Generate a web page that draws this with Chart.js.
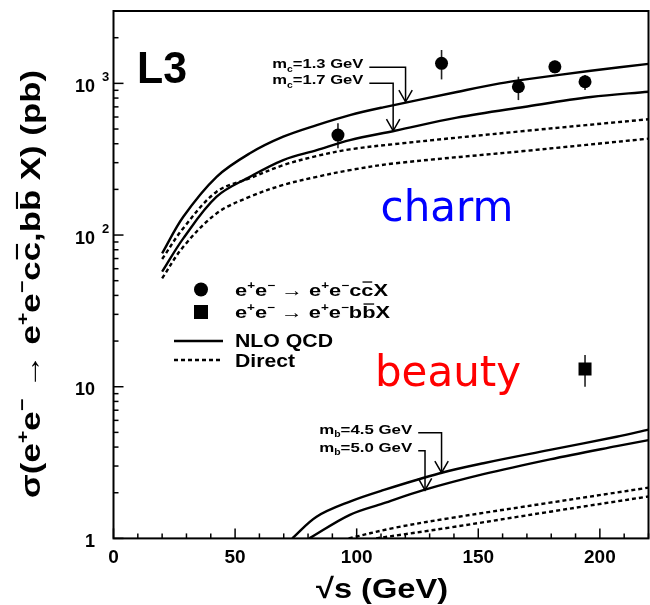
<!DOCTYPE html>
<html><head><meta charset="utf-8">
<script src="https://cdn.jsdelivr.net/npm/chart.js@4.4.0/dist/chart.umd.min.js"></script>
<style>html,body{margin:0;padding:0;background:#fff;}#wrap{width:650px;height:605px;}</style>
</head><body><div id="wrap"><canvas id="c" width="650" height="605"></canvas></div>
<script>
// ---- data (sqrt(s) in GeV, cross-section in pb) ----
const charmSqrtS   = [92.3, 134.9, 166.5, 181.5, 193.9];
const charmXsec    = [456, 1355, 950, 1286, 1025];
const charmErrLow  = [373, 1062, 776, 1164, 903];
const charmErrHigh = [545, 1660, 1106, 1409, 1135];

const beautySqrtS   = [193.9];
const beautyXsec    = [13.1];
const beautyErrLow  = [10.0];
const beautyErrHigh = [16.2];

const nloCharm13X = [20, 28.7, 42.4, 56.1, 69.8, 83.6, 97.2, 110.9, 141.2, 158.9, 168.8, 196.3, 220];
const nloCharm13Y = [75.7, 132, 242, 346, 445, 531, 618, 695, 877, 1000, 1059, 1211, 1345];
const nloCharm17X = [20, 28.7, 42.4, 56.1, 69.8, 83.6, 97.2, 115.7, 141.2, 168.8, 196.3, 220];
const nloCharm17Y = [57.3, 95.1, 179, 242, 312, 363, 423, 487, 594, 699, 813, 881];
const dirCharm13X = [20, 28.7, 42.4, 56.1, 69.8, 83.6, 97.2, 115.7, 168.8, 220];
const dirCharm13Y = [69.5, 111, 193, 237, 289, 332, 367, 398, 485, 580];
const dirCharm17X = [20, 28.7, 42.4, 56.1, 69.8, 83.6, 97.2, 115.7, 168.8, 220];
const dirCharm17Y = [51.8, 83.7, 139, 179, 214, 242, 268, 297, 358, 432];

const nloBeauty45X = [73.5, 83.5, 97.2, 110.9, 134.2, 152.1, 179.5, 206.9, 220];
const nloBeauty45Y = [1.0, 1.39, 1.75, 2.08, 2.69, 3.13, 3.83, 4.68, 5.22];
const nloBeauty50X = [80.5, 97.2, 110.9, 127.4, 152.1, 179.5, 206.9, 220];
const nloBeauty50Y = [1.0, 1.43, 1.70, 2.08, 2.65, 3.32, 4.06, 4.45];
const dirBeauty45X = [96.7, 115, 138.4, 179.5, 220];
const dirBeauty45Y = [1.0, 1.17, 1.36, 1.72, 2.16];
const dirBeauty50X = [108, 138.4, 179.5, 220];
const dirBeauty50Y = [1.0, 1.18, 1.50, 1.89];

const xTickValues = [0, 50, 100, 150, 200];
const xTickLabels = ['0', '50', '100', '150', '200'];
const yTickValues = [1, 10, 100, 1000];
const yTickBases  = ['1', '10', '10', '10'];
const yTickExps   = ['', '', '2', '3'];

// arrow annotations: [mass subscript, rest, line level (pb), line start x, corner x, arrow tip (pb)]
const massNotes = [
  ['c', '=1.3 GeV', 1275, 105.2, 120.1, 756],
  ['c', '=1.7 GeV', 1000, 105.2, 115.0, 487],
  ['b', '=4.5 GeV', 4.97, 125.3, 134.9, 2.71],
  ['b', '=5.0 GeV', 3.79, 125.3, 128.1, 2.08]
];

// ---- helpers ----
const FAM = '"Liberation Sans", Arial, Helvetica, sans-serif';
const pts = (xs, ys) => xs.map((x, i) => ({x, y: ys[i]}));
function segFont(s, F) { const sz = (s.sup || s.sub) ? F * 0.62 : F; return `bold ${sz}px ${FAM}`; }
function measureRich(ctx, segs, F) { let w = 0; for (const s of segs) { ctx.font = segFont(s, F); w += ctx.measureText(s.t).width; } return w; }
function drawRich(ctx, segs, x, y, F, align, targetW) {
  const nat = measureRich(ctx, segs, F);
  const sx = targetW ? targetW / nat : 1;
  const W = nat * sx;
  const x0 = align === 'center' ? x - W / 2 : align === 'right' ? x - W : x;
  ctx.save(); ctx.translate(x0, y); ctx.scale(sx, 1);
  ctx.textAlign = 'left'; ctx.textBaseline = 'alphabetic'; ctx.fillStyle = '#000';
  let cx = 0;
  for (const s of segs) {
    ctx.font = segFont(s, F);
    const w = ctx.measureText(s.t).width;
    const dy = s.sup ? -F * 0.42 : s.sub ? F * 0.24 : 0;
    ctx.fillText(s.t, cx, dy);
    if (s.bar) ctx.fillRect(cx + w * 0.1, -F * 0.86, w * 0.8, Math.max(1.3, F * 0.075));
    cx += w;
  }
  ctx.restore();
}

const lineDS = (xs, ys, dashed) => ({
  data: pts(xs, ys), showLine: true, pointRadius: 0, pointHoverRadius: 0, borderColor: '#000',
  borderWidth: 2.4, borderDash: dashed ? [4, 3] : [], fill: false, tension: 0.35
});

const deco = {
  id: 'deco',
  beforeDatasetsDraw(chart) {
    const ctx = chart.ctx, xs = chart.scales.x, ys = chart.scales.y;
    ctx.save(); ctx.strokeStyle = '#222'; ctx.lineWidth = 1.6;
    const bars = (X, lo, hi) => X.forEach((v, i) => {
      const px = xs.getPixelForValue(v);
      ctx.beginPath(); ctx.moveTo(px, ys.getPixelForValue(lo[i])); ctx.lineTo(px, ys.getPixelForValue(hi[i])); ctx.stroke();
    });
    bars(charmSqrtS, charmErrLow, charmErrHigh);
    bars(beautySqrtS, beautyErrLow, beautyErrHigh);
    ctx.restore();
  },
  afterDraw(chart) {
    const ctx = chart.ctx, xs = chart.scales.x, ys = chart.scales.y, a = chart.chartArea;
    ctx.save();
    // frame
    ctx.strokeStyle = '#000'; ctx.lineWidth = 2;
    ctx.strokeRect(a.left, a.top, a.right - a.left, a.bottom - a.top);
    // x ticks
    ctx.lineWidth = 1.5;
    for (let v = 0; v <= 220; v += 10) {
      const px = xs.getPixelForValue(v), len = v % 50 === 0 ? 10 : 5;
      ctx.beginPath(); ctx.moveTo(px, a.bottom); ctx.lineTo(px, a.bottom - len); ctx.stroke();
    }
    // y ticks
    for (let d = 1; d <= 1000; d *= 10) {
      for (let m = 1; m <= 9; m++) {
        const v = m * d; if (v > 3000) break;
        const py = ys.getPixelForValue(v), len = m === 1 ? 10 : 5;
        ctx.beginPath(); ctx.moveTo(a.left, py); ctx.lineTo(a.left + len, py); ctx.stroke();
      }
    }
    // x tick labels
    ctx.fillStyle = '#000'; ctx.font = `bold 19px ${FAM}`; ctx.textAlign = 'center'; ctx.textBaseline = 'alphabetic';
    xTickValues.forEach((v, i) => ctx.fillText(xTickLabels[i], xs.getPixelForValue(v), a.bottom + 25));
    // y tick labels
    yTickValues.forEach((v, i) => {
      const py = ys.getPixelForValue(v) + 2;
      ctx.font = `bold 18px ${FAM}`; ctx.textAlign = 'right';
      ctx.fillText(yTickBases[i], 95, py + 6.5);
      if (yTickExps[i]) { ctx.font = `bold 13px ${FAM}`; ctx.textAlign = 'left'; ctx.fillText(yTickExps[i], 102, py - 4); }
    });
    // axis titles
    drawRich(ctx, [{t: '√s (GeV)'}], 382, 598, 28, 'center', 132);
    ctx.save(); ctx.translate(30, 284); ctx.rotate(-Math.PI / 2);
    drawRich(ctx, [{t: 'σ(e'}, {t: '+', sup: 1}, {t: 'e'}, {t: '−', sup: 1}, {t: ' → e'}, {t: '+', sup: 1}, {t: 'e'}, {t: '−', sup: 1},
      {t: 'c'}, {t: 'c', bar: 1}, {t: ',b'}, {t: 'b', bar: 1}, {t: ' X) (pb)'}], 0, 10, 28, 'center', 428);
    ctx.restore();
    // L3
    drawRich(ctx, [{t: 'L3'}], 137, 83, 45, 'left', 50);
    // charm / beauty
    ctx.font = `42px "DejaVu Sans", sans-serif`; ctx.textAlign = 'center';
    ctx.fillStyle = '#0000ff'; ctx.fillText('charm', 447, 221);
    ctx.fillStyle = '#ff0000'; ctx.fillText('beauty', 448, 386);
    // legend
    ctx.fillStyle = '#000';
    ctx.beginPath(); ctx.arc(201, 289.5, 7, 0, Math.PI * 2); ctx.fill();
    ctx.fillRect(194, 305, 14, 14);
    ctx.lineWidth = 2.4; ctx.strokeStyle = '#000';
    ctx.beginPath(); ctx.moveTo(174, 341); ctx.lineTo(223, 341); ctx.stroke();
    ctx.setLineDash([4, 3]);
    ctx.beginPath(); ctx.moveTo(174, 360); ctx.lineTo(223, 360); ctx.stroke();
    ctx.setLineDash([]);
    drawRich(ctx, [{t: 'e'}, {t: '+', sup: 1}, {t: 'e'}, {t: '−', sup: 1}, {t: ' → e'}, {t: '+', sup: 1}, {t: 'e'}, {t: '−', sup: 1}, {t: 'c'}, {t: 'c', bar: 1}, {t: 'X'}], 235, 296, 17, 'left', 153);
    drawRich(ctx, [{t: 'e'}, {t: '+', sup: 1}, {t: 'e'}, {t: '−', sup: 1}, {t: ' → e'}, {t: '+', sup: 1}, {t: 'e'}, {t: '−', sup: 1}, {t: 'b'}, {t: 'b', bar: 1}, {t: 'X'}], 235, 318, 17, 'left', 155);
    drawRich(ctx, [{t: 'NLO QCD'}], 235, 346.5, 18, 'left', 98);
    drawRich(ctx, [{t: 'Direct'}], 235, 366.5, 18, 'left', 60);
    // mass annotations
    ctx.lineWidth = 1.5;
    massNotes.forEach(n => {
      const ly = ys.getPixelForValue(n[2]), x0 = xs.getPixelForValue(n[3]), xc = xs.getPixelForValue(n[4]), ty = ys.getPixelForValue(n[5]);
      ctx.beginPath(); ctx.moveTo(x0, ly); ctx.lineTo(xc, ly); ctx.lineTo(xc, ty); ctx.stroke();
      ctx.beginPath(); ctx.moveTo(xc - 6.7, ty - 11.7); ctx.lineTo(xc, ty); ctx.lineTo(xc + 6.7, ty - 11.7); ctx.stroke();
      drawRich(ctx, [{t: 'm'}, {t: n[0], sub: 1}, {t: n[1]}], x0 - 6, ly + 1, 13.5, 'right', n[0] === 'c' ? 91 : 93);
    });
    ctx.restore();
  }
};

new Chart(document.getElementById('c'), {
  type: 'scatter',
  data: {
    datasets: [
      {data: pts(charmSqrtS, charmXsec), pointRadius: 6.5, pointHoverRadius: 6.5, pointStyle: 'circle', backgroundColor: '#000', borderColor: '#000', borderWidth: 0},
      {data: pts(beautySqrtS, beautyXsec), pointRadius: 9.2, pointHoverRadius: 9.2, pointStyle: 'rect', backgroundColor: '#000', borderColor: '#000', borderWidth: 0},
      lineDS(nloCharm13X, nloCharm13Y, false),
      lineDS(nloCharm17X, nloCharm17Y, false),
      lineDS(dirCharm13X, dirCharm13Y, true),
      lineDS(dirCharm17X, dirCharm17Y, true),
      lineDS(nloBeauty45X, nloBeauty45Y, false),
      lineDS(nloBeauty50X, nloBeauty50Y, false),
      lineDS(dirBeauty45X, dirBeauty45Y, true),
      lineDS(dirBeauty50X, dirBeauty50Y, true)
    ]
  },
  options: {
    responsive: false, animation: false, devicePixelRatio: 1,
    layout: {autoPadding: false, padding: {left: 113.5, right: 1.5, top: 11, bottom: 66.6}},
    scales: {
      x: {type: 'linear', min: 0, max: 220, display: false},
      y: {type: 'logarithmic', min: 1, max: 3000, display: false}
    },
    plugins: {legend: {display: false}, tooltip: {enabled: false}}
  },
  plugins: [deco]
});
</script></body></html>
